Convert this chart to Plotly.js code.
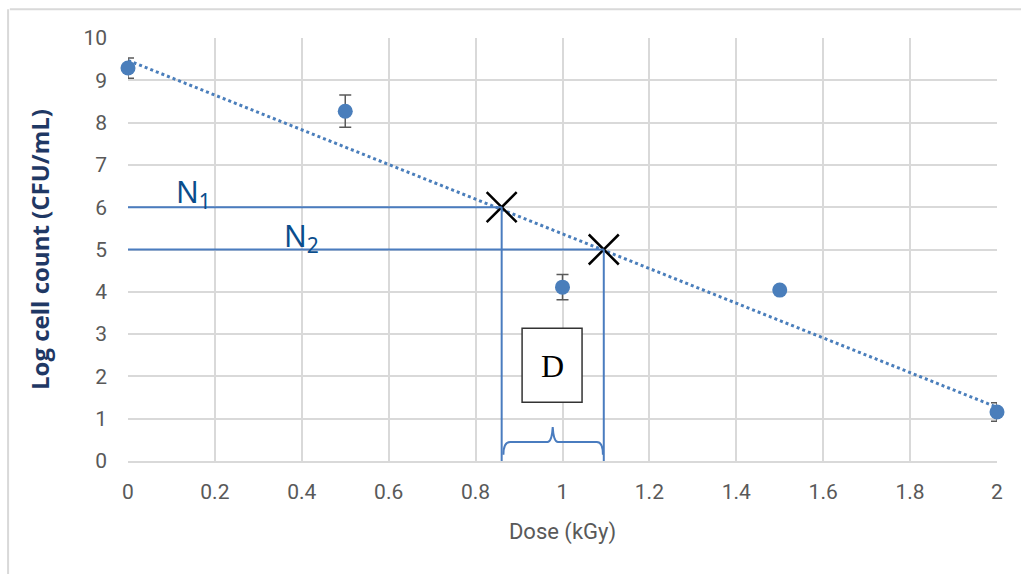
<!DOCTYPE html>
<html>
<head>
<meta charset="utf-8">
<script src="https://cdn.plot.ly/plotly-3.0.1.min.js"></script>
<style>html,body{margin:0;padding:0;background:#fff;}#chart{width:1021px;height:574px;}</style>
</head>
<body>
<div id="chart"></div>
<script>
// Data
const doses = [0, 0.5, 1, 1.5, 2];
const logCounts = [9.29, 8.27, 4.11, 4.04, 1.16];
const errors = [0.24, 0.38, 0.3, 0, 0.22];
const trendX = [0, 2];
const trendY = [9.47, 1.27];
// Annotation points (D-value construction)
const n1Dose = 0.86, n1Log = 6;
const n2Dose = 1.095, n2Log = 5;
const xTicks = [0, 0.2, 0.4, 0.6, 0.8, 1, 1.2, 1.4, 1.6, 1.8, 2];
const xTickText = ['0', '0.2', '0.4', '0.6', '0.8', '1', '1.2', '1.4', '1.6', '1.8', '2'];
const yTicks = [0, 1, 2, 3, 4, 5, 6, 7, 8, 9, 10];

const blue = '#4a7ebb';
const lineBlue = '#4a7cbf';
const tickFont = {family: 'Roboto, sans-serif', size: 21, color: '#595959'};

const traces = [
  {
    x: trendX, y: trendY, mode: 'lines', type: 'scatter',
    line: {color: blue, width: 3, dash: 'dot'}, hoverinfo: 'skip', showlegend: false, cliponaxis: false
  },
  {
    x: doses, y: logCounts, mode: 'markers', type: 'scatter',
    marker: {color: blue, size: 15},
    error_y: {type: 'data', array: errors, visible: true, color: '#595959', thickness: 1.5, width: 6},
    showlegend: false, cliponaxis: false
  },
  {
    x: [n1Dose, n2Dose], y: [n1Log, n2Log], mode: 'markers', type: 'scatter',
    marker: {symbol: 'x-thin-open', size: 30, color: '#000', line: {color: '#000', width: 2.5}},
    showlegend: false, hoverinfo: 'skip', cliponaxis: false
  }
];

const braceY = 0.45;
const braceMid = (n1Dose + n2Dose) / 2;
const bracePath =
  'M ' + (n1Dose + 0.004) + ',0.15 Q ' + (n1Dose + 0.004) + ',' + braceY + ' ' + (n1Dose + 0.02) + ',' + braceY +
  ' L ' + (braceMid - 0.012) + ',' + braceY + ' Q ' + (braceMid - 0.002) + ',' + braceY + ' ' + braceMid + ',0.8' +
  ' Q ' + (braceMid + 0.002) + ',' + braceY + ' ' + (braceMid + 0.012) + ',' + braceY +
  ' L ' + (n2Dose - 0.016) + ',' + braceY + ' Q ' + (n2Dose - 0.002) + ',' + braceY + ' ' + (n2Dose - 0.002) + ',0.15';

const layout = {
  width: 1021, height: 574,
  margin: {l: 128, r: 24, t: 38, b: 113},
  paper_bgcolor: '#fff', plot_bgcolor: '#fff',
  showlegend: false,
  xaxis: {
    range: [0, 2], tickvals: xTicks, ticktext: xTickText,
    showgrid: true, gridcolor: '#d9d9d9', gridwidth: 2,
    zeroline: false, showline: true, linecolor: '#d9d9d9', linewidth: 2,
    ticks: '', tickfont: tickFont, ticklabelstandoff: 11,
    title: {text: 'Dose (kGy)', font: {family: 'Roboto, sans-serif', size: 22, color: '#595959'}, standoff: 20}
  },
  yaxis: {
    range: [0, 10], tickvals: yTicks,
    showgrid: true, gridcolor: '#d9d9d9', gridwidth: 2,
    zeroline: false, showline: false, ticks: '', tickfont: tickFont, ticklabelstandoff: 20,
    title: {text: '<b>Log cell count (CFU/mL)</b>', font: {family: 'Open Sans, sans-serif', size: 24, color: '#1f3864'}, standoff: 26}
  },
  shapes: [
    {type: 'line', xref: 'paper', yref: 'paper', x0: -0.136, x1: 1.05, y0: 1.068, y1: 1.068, line: {color: '#d9d9d9', width: 2}},
    {type: 'line', xref: 'paper', yref: 'paper', x0: -0.138, x1: -0.138, y0: 1.068, y1: -0.3, line: {color: '#d9d9d9', width: 2}},
    {type: 'line', x0: 0, x1: n1Dose, y0: n1Log, y1: n1Log, line: {color: lineBlue, width: 2}},
    {type: 'line', x0: 0, x1: n2Dose, y0: n2Log, y1: n2Log, line: {color: lineBlue, width: 2}},
    {type: 'line', x0: n1Dose, x1: n1Dose, y0: n1Log, y1: 0, line: {color: lineBlue, width: 2}},
    {type: 'line', x0: n2Dose, x1: n2Dose, y0: n2Log, y1: 0, line: {color: lineBlue, width: 2}},
    {type: 'path', path: bracePath, line: {color: lineBlue, width: 2}},
    {type: 'rect', x0: 0.907, x1: 1.045, y0: 1.39, y1: 3.14, fillcolor: '#fff', line: {color: '#333', width: 1.5}}
  ],
  annotations: [
    {x: 0.976, y: 2.25, text: 'D', showarrow: false, font: {family: 'Liberation Serif, serif', size: 32, color: '#000'}},
    {x: 0.15, y: 6.33, text: 'N<sub>1</sub>', showarrow: false, font: {family: 'Noto Sans, sans-serif', size: 30, color: '#0a4d8c'}},
    {x: 0.4, y: 5.3, text: 'N<sub>2</sub>', showarrow: false, font: {family: 'Noto Sans, sans-serif', size: 30, color: '#0a4d8c'}}
  ]
};

Plotly.newPlot('chart', traces, layout, {displayModeBar: false, staticPlot: true});
</script>
</body>
</html>
